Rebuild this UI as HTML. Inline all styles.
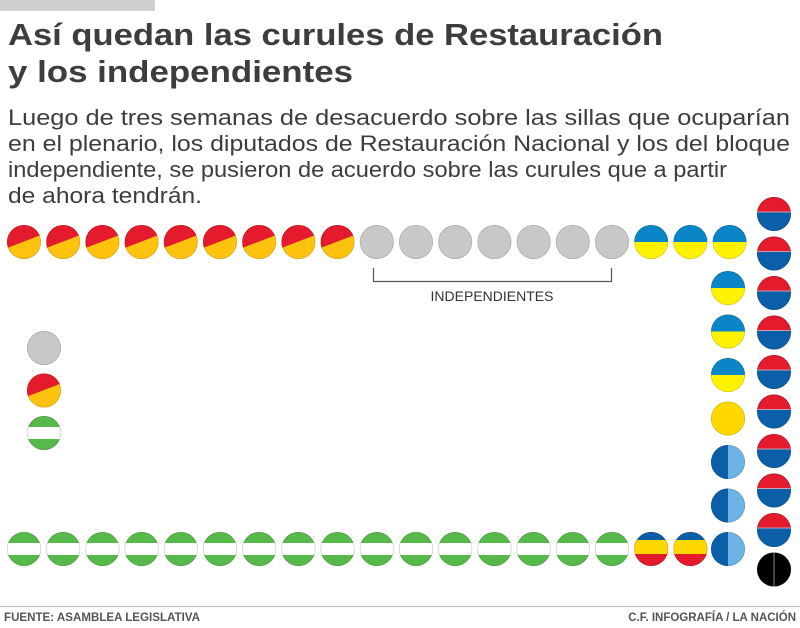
<!DOCTYPE html>
<html><head><meta charset="utf-8"><style>
html,body{margin:0;padding:0;background:#fff;}
svg{display:block;font-family:"Liberation Sans",sans-serif;}
</style></head><body>
<svg id="chart" width="800" height="628" viewBox="0 0 800 628">
<rect x="0" y="0" width="155" height="11" fill="#cfcfd1"/>
<text x="8" y="45" font-size="31" font-weight="bold" fill="#3d3d3d" textLength="655" lengthAdjust="spacingAndGlyphs">Así quedan las curules de Restauración</text>
<text x="8" y="82" font-size="31" font-weight="bold" fill="#3d3d3d" textLength="345" lengthAdjust="spacingAndGlyphs">y los independientes</text>
<g fill="#3d3d3d" font-size="22">
<text x="8" y="125" textLength="782" lengthAdjust="spacingAndGlyphs">Luego de tres semanas de desacuerdo sobre las sillas que ocuparían</text>
<text x="8" y="151" textLength="782" lengthAdjust="spacingAndGlyphs">en el plenario, los diputados de Restauración Nacional y los del bloque</text>
<text x="8" y="177" textLength="719" lengthAdjust="spacingAndGlyphs">independiente, se pusieron de acuerdo sobre las curules que a partir</text>
<text x="8" y="203" textLength="194" lengthAdjust="spacingAndGlyphs">de ahora tendrán.</text>
</g>
<path d="M373.5 268 V281.5 H611.5 V268" fill="none" stroke="#555" stroke-width="1.2"/>
<text x="492" y="301" font-size="14" fill="#333" text-anchor="middle">INDEPENDIENTES</text>
<g id="seats"></g>
<line x1="0" y1="606.5" x2="800" y2="606.5" stroke="#bbb" stroke-width="1"/>
<text x="4" y="621" font-size="11.5" fill="#555" font-weight="bold" textLength="196" lengthAdjust="spacingAndGlyphs">FUENTE: ASAMBLEA LEGISLATIVA</text>
<text x="796" y="621" font-size="11.5" fill="#555" font-weight="bold" text-anchor="end">C.F. INFOGRAFÍA /  LA NACIÓN</text>
</svg>
<script>
// seat party types per block
const topRow = ["ry","ry","ry","ry","ry","ry","ry","ry","ry","g","g","g","g","g","g","g","by","by","by"];
const innerCol = ["by","by","by","y","bl","bl","bl"];
const bottomRow = ["gw","gw","gw","gw","gw","gw","gw","gw","gw","gw","gw","gw","gw","gw","gw","gw","es","es"];
const rightCol = ["rb","rb","rb","rb","rb","rb","rb","rb","rb","k"];
const sideCol = ["g","ry","gw"];

const NS="http://www.w3.org/2000/svg";
const seats=document.getElementById('seats');
const R=17;
let cid=0;
function mk(tag,attrs,parent){const e=document.createElementNS(NS,tag);for(const k in attrs)e.setAttribute(k,attrs[k]);parent.appendChild(e);return e;}
function seat(cx,cy,type){
  const g=mk('g',{},seats);
  
  
  const id='c'+(cid++);
  const cp=mk('clipPath',{id:id},g);
  mk('circle',{cx:cx,cy:cy,r:R},cp);
  const inner=mk('g',{'clip-path':'url(#'+id+')'},g);
  const x=cx-R,y=cy-R,w=2*R;
  const rect=(yy,h,f)=>mk('rect',{x:x,y:yy,width:w,height:h,fill:f},inner);
  if(type==='g'){rect(y,w,'#c8c8c8');}
  else if(type==='y'){rect(y,w,'#ffd800');}
  else if(type==='k'){rect(y,w,'#000');mk('line',{x1:cx,y1:y,x2:cx,y2:y+w,stroke:'#888','stroke-width':1},inner);}
  else if(type==='ry'){rect(y,w,'#ffc20e');mk('polygon',{points:`${x},${y} ${x+w},${y} ${x+w},${cy-7} ${x},${cy+6}`,fill:'#e31b2c'},inner);}
  else if(type==='by'){rect(y,w,'#fff200');rect(y,R,'#0a86c8');}
  else if(type==='rb'){rect(y,w,'#0b5fa8');rect(y,R-2,'#e31b2c');mk('line',{x1:x,y1:cy-2,x2:x+w,y2:cy-2,stroke:'#c9a0b0','stroke-width':1},inner);}
  else if(type==='gw'){rect(y,w,'#56b94a');rect(cy-6,12,'#fff');}
  else if(type==='es'){rect(y,w,'#e31b2c');rect(y,8,'#0b5fa8');rect(y+8,14,'#ffd800');}
  else if(type==='bl'){rect(y,w,'#6db3e6');mk('rect',{x:x,y:y,width:R,height:w,fill:'#0b5fa8'},inner);}
  mk('circle',{cx:cx,cy:cy,r:R-0.3,fill:'none',stroke:'rgba(0,0,0,0.15)','stroke-width':0.8},g);
}
const step=39.2;
topRow.forEach((t,i)=>seat(24+i*step,242,t));
const colY=[288,332,375,418,462,506,549];
innerCol.forEach((t,i)=>seat(728,288+i*43.5,t));
bottomRow.forEach((t,i)=>seat(24+i*step,549,t));
rightCol.forEach((t,i)=>seat(774,214+i*39.5,t));
sideCol.forEach((t,i)=>seat(44,348+i*42.5,t));
</script>
</body></html>
